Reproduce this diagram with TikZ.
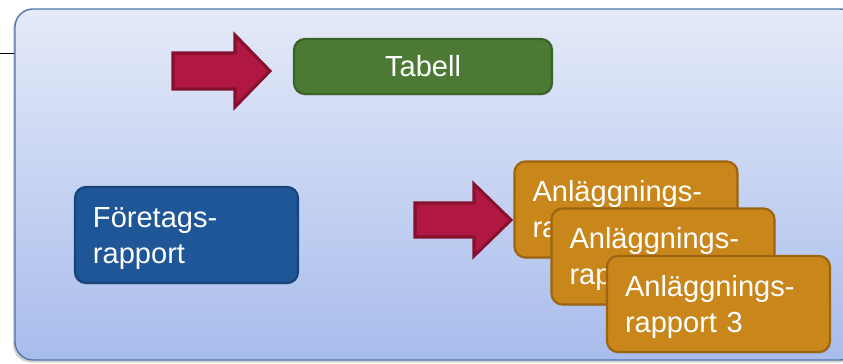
\documentclass[tikz,border=0pt]{standalone}
\usepackage{fontspec}
\setmainfont{Liberation Sans}
\usetikzlibrary{shadows}

\definecolor{paneltop}{HTML}{E5EAF8}
\definecolor{panelbot}{HTML}{A8BCEC}
\definecolor{panelline}{HTML}{4F74AE}
\definecolor{arrowfill}{HTML}{B01842}
\definecolor{arrowline}{HTML}{85112F}
\definecolor{greenfill}{HTML}{4C7A34}
\definecolor{greenline}{HTML}{3A6327}
\definecolor{bluefill}{HTML}{1E5698}
\definecolor{blueline}{HTML}{17447A}
\definecolor{orangefill}{HTML}{C9871B}
\definecolor{orangeline}{HTML}{9C6510}

% invisible strut that pushes the first text line a little lower
\newcommand\firstlinepad{\rule{0pt}{0.8cm}}

\tikzset{
  panel/.style={draw=panelline, line width=1.2pt, rounded corners=0.54cm,
    top color=paneltop, bottom color=panelbot,
    drop shadow={shadow xshift=-0.06cm, shadow yshift=-0.08cm, opacity=0.35}},
  blockarrow/.style={draw=arrowline, fill=arrowfill, line width=2.6pt, line join=miter},
  box/.style={rounded corners=0.33cm, line width=1.9pt, text=white,
    font=\fontsize{24.8pt}{30.7pt}\selectfont,
    minimum width=6.69cm, minimum height=2.88cm, inner ysep=0pt,
    drop shadow={shadow xshift=0.02cm, shadow yshift=-0.05cm, opacity=0.25}},
  textbox/.style={box, text width=5.61cm, inner xsep=0.54cm, align=left},
  tablebox/.style={box, draw=greenline, fill=greenfill,
    minimum width=7.74cm, minimum height=1.65cm, align=center},
  companybox/.style={textbox, draw=blueline, fill=bluefill},
  plantbox/.style={textbox, draw=orangeline, fill=orangefill},
}

\begin{document}
\begin{tikzpicture}[x=0.03cm, y=-0.03cm]
  \useasboundingbox (0,0) rectangle (843,363);

  % lead-in rule on the left margin
  \coordinate (rulestart) at (0,53);
  \coordinate (ruleend) at (15,53);
  \draw[black, line width=0.7pt] (rulestart) -- (ruleend);

  % background panel
  \path[panel] (15,9) rectangle (858,360);

  % block arrows
  \draw[blockarrow] (173,53) -- (235,53) -- (235,35) -- (270,71)
    -- (235,107) -- (235,89) -- (173,89) -- cycle;
  \draw[blockarrow] (415,203) -- (474,203) -- (474,184) -- (511,220)
    -- (474,256) -- (474,237) -- (415,237) -- cycle;

  % boxes
  \node[tablebox] (tabell) at (423,66.5) {Tabell};
  \node[companybox] (foretag) at (186.5,235) {\firstlinepad Företags-\\rapport};
  \node[plantbox] (plant1) at (626,209.5) {\firstlinepad Anläggnings-\\rapport 1};
  \node[plantbox] (plant2) at (663,256.5) {\firstlinepad Anläggnings-\\rapport 2};
  \node[plantbox] (plant3) at (718.5,304) {\firstlinepad Anläggnings-\\rapport 3};
\end{tikzpicture}
\end{document}
